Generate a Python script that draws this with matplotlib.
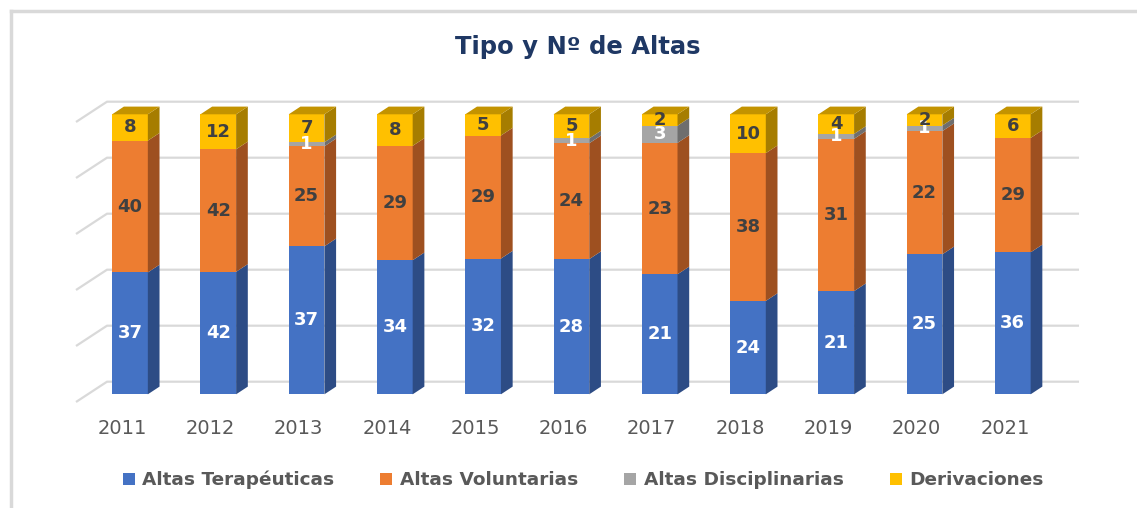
import matplotlib
matplotlib.use("Agg")
import matplotlib.pyplot as plt
from matplotlib.patches import Polygon, Patch
from matplotlib.lines import Line2D
import numpy as np

years = ["2011", "2012", "2013", "2014", "2015", "2016", "2017", "2018", "2019", "2020", "2021"]
series_names = ["Altas Terapéuticas", "Altas Voluntarias", "Altas Disciplinarias", "Derivaciones"]
terapeuticas = [37, 42, 37, 34, 32, 28, 21, 24, 21, 25, 36]
voluntarias = [40, 42, 25, 29, 29, 24, 23, 38, 31, 22, 29]
disciplinarias = [0, 0, 1, 0, 0, 1, 3, 0, 1, 1, 0]
derivaciones = [8, 12, 7, 8, 5, 5, 2, 10, 4, 2, 6]

front_colors = ["#4472C4", "#ED7D31", "#A5A5A5", "#FFC000"]
side_colors = ["#2D4C85", "#9E5020", "#6E6E6E", "#A67D00"]
top_colors = ["#3A63AE", "#C9692A", "#8C8C8C", "#C39300"]
label_colors = ["white", "#404040", "white", "#404040"]

W, H = 1137, 508
fig = plt.figure(figsize=(W / 100, H / 100), dpi=100)
fig.patch.set_facecolor("white")

# pixel geometry of the plot area
x0_px, step_px = 130.0, 88.28
y0_px, unit_px = 394.3, 2.8
xlim = (-0.7, 10.8)
ylim = (-5.0, 107.0)
left_px = x0_px + xlim[0] * step_px
right_px = x0_px + xlim[1] * step_px
bot_px = y0_px - ylim[0] * unit_px
top_px = y0_px - ylim[1] * unit_px
ax = fig.add_axes([left_px / W, 1 - bot_px / H, (right_px - left_px) / W, (bot_px - top_px) / H])
ax.set_xlim(*xlim)
ax.set_ylim(*ylim)
ax.axis("off")

# depth offsets (bar) and wall offsets, in data units
ddx, ddy = 11.7 / step_px, 7.7 / unit_px
wall_back_dy = 4.5
wall_front_dy = -2.75
wall_back_x = (107 - x0_px) / step_px
wall_front_x = (76 - x0_px) / step_px

grid_c = "#D9D9D9"
for p in range(0, 101, 20):
    ax.plot([wall_front_x, wall_back_x, xlim[1] - 0.05],
            [p + wall_front_dy, p + wall_back_dy, p + wall_back_dy],
            color=grid_c, lw=1.6, zorder=1, solid_capstyle="butt", clip_on=False)

data = np.array([terapeuticas, voluntarias, disciplinarias, derivaciones], dtype=float)
totals = data.sum(axis=0)
pct = data / totals * 100
x = np.arange(len(years))
w = 0.404

bottoms = np.zeros(len(years))
for s in range(4):
    vals = pct[s]
    ax.bar(x, vals, bottom=bottoms, width=w, color=front_colors[s], zorder=3, linewidth=0)
    for i in range(len(years)):
        if vals[i] <= 0:
            continue
        b, t = bottoms[i], bottoms[i] + vals[i]
        xr = x[i] + w / 2
        side = Polygon([(xr, b), (xr + ddx, b + ddy), (xr + ddx, t + ddy), (xr, t)],
                       closed=True, facecolor=side_colors[s], edgecolor="none", zorder=3)
        ax.add_patch(side)
    bottoms = bottoms + vals

# top faces (of topmost non-zero segment)
for i in range(len(years)):
    top_series = max(s for s in range(4) if data[s, i] > 0)
    xl, xr = x[i] - w / 2, x[i] + w / 2
    t = bottoms[i]
    top = Polygon([(xl, t), (xr, t), (xr + ddx, t + ddy), (xl + ddx, t + ddy)],
                  closed=True, facecolor=top_colors[top_series], edgecolor="none", zorder=3)
    ax.add_patch(top)

# data labels
bottoms = np.zeros(len(years))
for s in range(4):
    vals = pct[s]
    for i in range(len(years)):
        if data[s, i] > 0:
            ax.text(x[i], bottoms[i] + vals[i] / 2, f"{int(data[s, i])}",
                    ha="center", va="center", fontsize=13, fontweight="bold",
                    color=label_colors[s], zorder=5, family="DejaVu Sans")
    bottoms = bottoms + vals

# category labels
for i, yr in enumerate(years):
    ax.text(x[i] - 0.09, (y0_px - 428) / unit_px, yr, ha="center", va="center",
            fontsize=14, color="#595959", clip_on=False, family="DejaVu Sans")

# title
fig.text(578 / W, 1 - 47 / H, "Tipo y Nº de Altas", ha="center", va="center",
         fontsize=17.5, fontweight="bold", color="#1F3864", family="DejaVu Sans")

# legend
handles = [Patch(facecolor=c, edgecolor="none") for c in front_colors]
leg = fig.legend(handles, series_names, loc="center", bbox_to_anchor=(583 / W, 1 - 480 / H),
                 ncol=4, frameon=False, handlelength=0.65, handleheight=0.65,
                 handletextpad=0.4, columnspacing=2.5,
                 prop={"family": "DejaVu Sans", "weight": "bold", "size": 13.3})
for t in leg.get_texts():
    t.set_color("#595959")

# chart border (left and top only visible)
fig.add_artist(Line2D([10.5 / W, 10.5 / W], [0, 1 - 11 / H], color="#D9D9D9", lw=2.5))
fig.add_artist(Line2D([10.5 / W, 1], [1 - 11 / H, 1 - 11 / H], color="#D9D9D9", lw=2.5))

fig.savefig("out.png", dpi=100, facecolor="white")
